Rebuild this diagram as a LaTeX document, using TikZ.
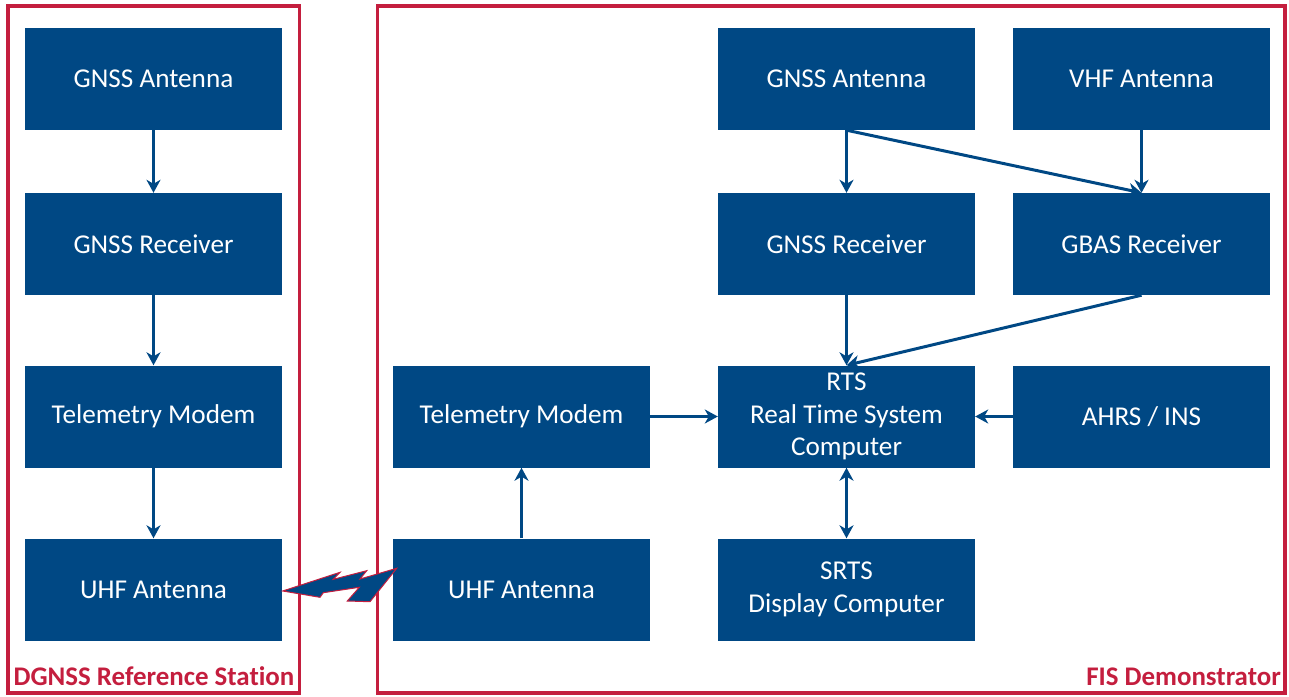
\documentclass[tikz,border=0pt]{standalone}
\usepackage{fontspec}
\setmainfont[Ligatures=NoCommon]{Carlito}
\usetikzlibrary{arrows.meta}
\definecolor{dblue}{RGB}{0,72,132}
\definecolor{dred}{RGB}{196,30,62}
\tikzset{
  blk/.style={fill=dblue, draw=none, text=white, minimum width=257pt, minimum height=102pt,
    inner sep=0pt, align=center, font=\fontsize{27.2}{32.5}\selectfont},
  frame/.style={draw=dred, line width=3.5pt},
  lab/.style={text=dred, font=\fontsize{26.9}{32}\selectfont\bfseries, inner sep=0pt},
  conn/.style={draw=dblue, line width=3pt, -{Stealth[length=13pt,width=14pt,inset=4pt]}},
  conn2/.style={draw=dblue, line width=3pt, {Stealth[length=13pt,width=14pt,inset=4pt]}-{Stealth[length=13pt,width=14pt,inset=4pt]}}
}
\begin{document}
\begin{tikzpicture}[x=1pt,y=-1pt]
\useasboundingbox (0,0) rectangle (1289,696);
% frames
\draw[frame] (8,6) rectangle (299.5,693);
\draw[frame] (377.5,6) rectangle (1285,693);
\node[lab, anchor=base] (labL) at (154,685) {DGNSS Reference Station};
\node[lab, anchor=base east] (labR) at (1281,685) {FIS Demonstrator};
% left column
\node[blk] (lant) at (153.5,79) {GNSS Antenna};
\node[blk] (lrec) at (153.5,244) {GNSS Receiver};
\node[blk] (ltel) at (153.5,416.5) {Telemetry Modem};
\node[blk] (luhf) at (153.5,589.5) {UHF Antenna};
% right part
\node[blk] (rtel) at (521.5,416.5) {Telemetry Modem};
\node[blk] (ruhf) at (521.5,589.5) {UHF Antenna};
\node[blk] (rant) at (846.5,79) {GNSS Antenna};
\node[blk] (rrec) at (846.5,244) {GNSS Receiver};
\node[blk] (rts) at (846.5,416.5) {RTS\\Real Time System\\Computer};
\node[blk] (srts) at (846.5,589.5) {SRTS\\Display Computer};
\node[blk] (vhf) at (1141.5,79) {VHF Antenna};
\node[blk] (gbas) at (1141.5,244) {GBAS Receiver};
\node[blk] (ahrs) at (1141.5,416.5) {AHRS / INS};
% connectors left
\draw[conn] (lant) -- (lrec);
\draw[conn] (lrec) -- (ltel);
\draw[conn] (ltel) -- (luhf);
% connectors right
\draw[conn] (ruhf) -- (rtel);
\draw[conn] (rtel) -- (rts);
\draw[conn] (ahrs) -- (rts);
\draw[conn2] (rts) -- (srts);
\draw[conn] (rant) -- (rrec);
\draw[conn] (vhf) -- (gbas);
\draw[conn] (rrec) -- (rts);
\draw[conn] (rant.south) -- (gbas.north);
\draw[conn] (gbas.south) -- (rts.north);
% lightning bolt
\filldraw[fill=dblue, draw=dred, line width=1pt, line join=miter]
  (282.7,591) -- (340,572.3) -- (333.3,579.3) -- (366.7,570.7) -- (360,579)
  -- (396.7,568.3) -- (370,601.7) -- (347.3,601) -- (359.3,587.3)
  -- (323.3,592.7) -- (320,597.3) -- cycle;
\end{tikzpicture}
\end{document}
